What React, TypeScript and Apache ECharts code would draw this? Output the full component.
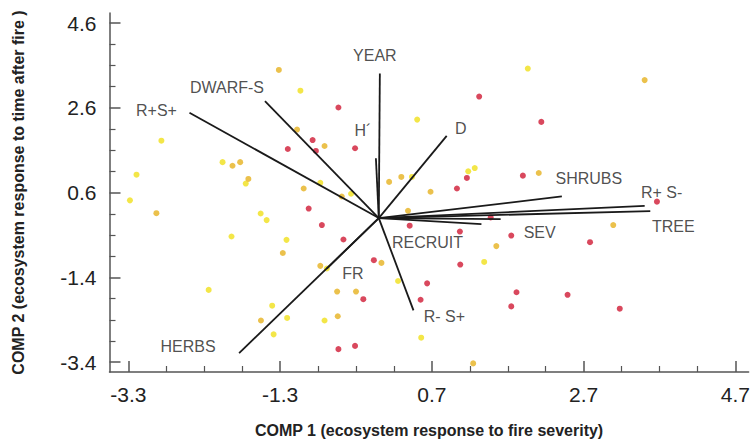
import React, { useEffect, useRef } from "react";
import * as echarts from "echarts";

// Major tick positions on each axis
const xTicks = [-3.3, -1.3, 0.7, 2.7, 4.7];
const yTicks = [-3.4, -1.4, 0.6, 2.6, 4.6];

// Site scores, grouped by colour class
const yellowPoints: [number, number][] = [
  [-3.28, 0.418], [-3.193, 1.024], [-2.865, 1.826], [-2.242, -1.694], [-2.059, 1.32],
  [-1.941, -0.435], [-1.753, 0.814], [-1.557, 0.108], [-1.478, -0.048], [-1.405, -2.067],
  [-1.386, -2.743], [-1.216, -0.514], [-1.208, -2.356], [-1.033, 3.006], [-0.771, 0.831],
  [-0.715, -2.416], [-0.685, -1.19], [-0.365, 0.574], [0.254, -1.484], [0.437, 0.971],
  [0.506, 2.323], [0.559, -2.822], [1.179, 1.103], [1.265, 1.18], [1.389, -1.034],
  [1.964, 3.528],
];
const goldPoints: [number, number][] = [
  [-2.931, 0.115], [-1.928, 1.234], [-1.827, 1.32], [-1.719, 0.924], [-1.553, -2.416],
  [-1.317, 3.495], [-1.265, -0.824], [-1.077, 2.089], [-0.99, 0.698], [-0.771, -1.127],
  [-0.715, 1.7], [-0.549, -1.733], [-0.541, -2.316], [-0.488, 0.509], [-0.3, -1.733],
  [0.035, -1.057], [0.136, 0.854], [0.297, 0.971], [0.385, 0.171], [0.682, 0.621],
  [1.244, -3.428], [1.549, -0.661], [2.108, 1.064], [3.09, -0.164], [3.504, 3.255],
];
const redPoints: [number, number][] = [
  [-1.199, 1.63], [-0.924, 0.225], [-0.872, 1.84], [-0.829, 1.584], [-0.75, -0.164],
  [-0.532, 2.609], [-0.532, -3.092], [-0.466, -0.505], [-0.313, 1.647], [-0.313, -3.015],
  [-0.204, -1.913], [-0.065, -0.994], [0.407, -0.179], [0.551, -1.927], [0.637, -1.54],
  [1.03, 0.698], [1.069, -0.318], [1.074, -1.097], [1.161, 0.947], [1.323, 2.866],
  [1.475, 0.015], [1.746, -0.412], [1.746, -2.083], [1.815, -1.75], [1.899, 1.001],
  [2.142, 2.269], [2.488, -1.81], [2.784, -0.568], [3.176, -2.137], [3.666, 0.388],
];

// Variable loadings (vector tips, drawn from the origin)
const vectorNames = [
  "YEAR", "H´", "DWARF-S", "R+S+", "D", "SHRUBS", "R+ S-",
  "TREE", "SEV", "RECRUIT", "FR", "HERBS", "R- S+",
];
const vectorX = [0.014, -0.038, -1.5, -2.495, 0.895, 2.413, 3.504, 3.578, 1.606, 1.353, -0.685, -1.841, 0.457];
const vectorY = [3.411, 1.413, 2.759, 2.486, 1.938, 0.511, 0.288, 0.166, -0.025, -0.141, -1.19, -3.186, -2.176];

// Label placement relative to each vector tip, in pixels
const labelOffsets: [number, number][] = [
  [-5, -18], [-13, -28], [-38, -14], [-33, -2], [14, -7], [27, -18], [17, -13],
  [23, 15], [39, 13], [-54, 18], [26, 5], [-51, -7], [31, 6],
];

const FONT = "'Liberation Sans', Arial, Helvetica, sans-serif";
const AXIS_COLOR = "#555";

function minorTicks(majors: number[], step: number, lo: number, hi: number): number[] {
  const out: number[] = [];
  for (const m of majors) {
    for (let k = -3; k <= 3; k++) {
      if (k === 0) continue;
      const v = Math.round((m + k * step) * 100) / 100;
      if (v > lo && v < hi && !out.includes(v) && !majors.includes(v)) out.push(v);
    }
  }
  return out.sort((a, b) => a - b);
}

const X_MIN = -3.549;
const X_MAX = 4.874;
const Y_MIN = -3.631;
const Y_MAX = 4.838;

export default function App() {
  const ref = useRef<HTMLDivElement>(null);

  useEffect(() => {
    document.body.style.margin = "0";
    if (!ref.current) return;
    const chart = echarts.init(ref.current, undefined, { renderer: "svg" });

    const xMinor = minorTicks(xTicks, 0.5, X_MIN, X_MAX);
    const yMinor = minorTicks(yTicks, 0.5, Y_MIN, Y_MAX);

    const titleStyle = {
      fontFamily: FONT,
      fontWeight: "bold" as const,
      fontSize: 16,
      color: "#222",
    };

    const majorAxis = (isX: boolean) => ({
      type: "value" as const,
      min: isX ? X_MIN : Y_MIN,
      max: isX ? X_MAX : Y_MAX,
      position: isX ? ("bottom" as const) : ("left" as const),
      axisLine: { show: true, onZero: false, lineStyle: { color: AXIS_COLOR, width: 1.5 } },
      axisTick: {
        show: true,
        inside: true,
        length: 11,
        customValues: isX ? xTicks : yTicks,
        lineStyle: { color: AXIS_COLOR, width: 1.5 },
      },
      axisLabel: {
        customValues: isX ? xTicks : yTicks,
        formatter: (v: number) => v.toFixed(1),
        fontFamily: FONT,
        fontSize: 21,
        color: "#222",
        margin: isX ? 12 : 13,
      },
      splitLine: { show: false },
      name: isX
        ? "COMP 1 (ecosystem response to fire severity)"
        : "COMP 2 (ecosystem response to time after fire )",
      nameLocation: "middle" as const,
      nameGap: isX ? 50 : 83,
      nameTextStyle: titleStyle,
    });

    const minorAxis = (isX: boolean) => ({
      type: "value" as const,
      min: isX ? X_MIN : Y_MIN,
      max: isX ? X_MAX : Y_MAX,
      position: isX ? ("bottom" as const) : ("left" as const),
      axisLine: { show: false, onZero: false },
      axisTick: {
        show: true,
        inside: true,
        length: 6,
        customValues: isX ? xMinor : yMinor,
        lineStyle: { color: AXIS_COLOR, width: 1.2 },
      },
      axisLabel: { show: false },
      splitLine: { show: false },
    });

    const vectorSeries = vectorNames.map((name, i) => ({
      type: "line" as const,
      name,
      data: [
        [0, 0],
        [vectorX[i], vectorY[i]],
      ],
      symbol: "none",
      silent: true,
      lineStyle: { color: "#1a1a1a", width: 1.8 },
      z: 3,
    }));

    const pointSeries = (data: [number, number][], color: string) => ({
      type: "scatter" as const,
      data,
      symbolSize: 6,
      itemStyle: { color },
      z: 2,
    });

    chart.setOption({
      animation: false,
      backgroundColor: "#fff",
      grid: { left: 109.5, right: 0, top: 13, bottom: 64, containLabel: false },
      xAxis: [majorAxis(true), minorAxis(true)],
      yAxis: [majorAxis(false), minorAxis(false)],
      series: [
        pointSeries(yellowPoints, "#f0e01a"),
        pointSeries(goldPoints, "#e6b11f"),
        pointSeries(redPoints, "#cf1a34"),
        ...vectorSeries,
        {
          type: "scatter",
          silent: true,
          symbolSize: 0,
          z: 4,
          data: vectorNames.map((name, i) => ({
            name,
            value: [vectorX[i], vectorY[i]],
            label: {
              show: true,
              position: "inside",
              formatter: name,
              offset: labelOffsets[i],
              fontFamily: FONT,
              fontSize: 16,
              color: "#222",
              align: "center",
              verticalAlign: "middle",
            },
          })),
        },
      ],
    });

    return () => chart.dispose();
  }, []);

  return <div ref={ref} style={{ width: 753, height: 443 }} />;
}
